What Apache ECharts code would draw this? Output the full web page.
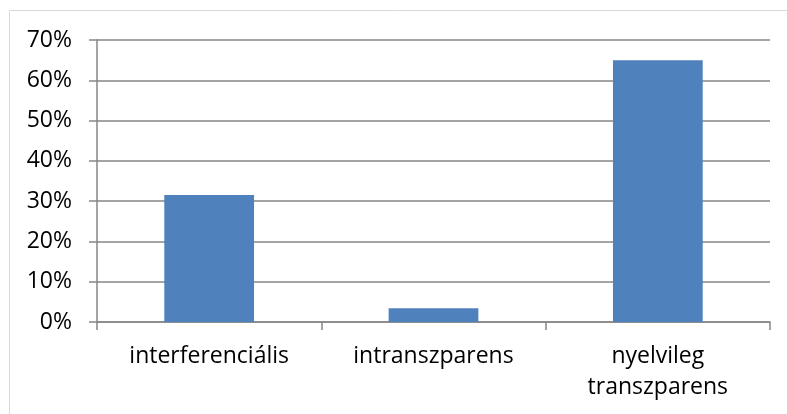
<!DOCTYPE html>
<html>
<head>
<meta charset="utf-8">
<script src="https://cdn.jsdelivr.net/npm/echarts@6/dist/echarts.min.js"></script>
<style>html,body{margin:0;padding:0;background:#fff;}#c{width:787px;height:414px;}</style>
</head>
<body>
<div id="c"></div>
<script>
const categories = ['interferenciális', 'intranszparens', 'nyelvileg\ntranszparens'];
const values = [0.315, 0.034, 0.65];
const yMin = 0, yMax = 0.7, yStep = 0.1;

const chart = echarts.init(document.getElementById('c'), null, {renderer: 'canvas'});
const font = '"Open Sans", sans-serif';
chart.setOption({
  animation: false,
  backgroundColor: '#ffffff',
  graphic: [{
    type: 'rect',
    shape: {x: 9.5, y: 10.5, width: 900, height: 600},
    style: {fill: 'none', stroke: '#d9d9d9', lineWidth: 1},
    silent: true
  }],
  grid: {left: 97, right: 17, top: 40, bottom: 92, containLabel: false},
  xAxis: {
    type: 'category',
    data: categories,
    axisLine: {show: true, lineStyle: {color: '#868686', width: 1.5}},
    axisTick: {show: true, length: 8, alignWithLabel: false, lineStyle: {color: '#868686', width: 1.5}},
    axisLabel: {
      color: '#000', fontFamily: font, fontSize: 23, margin: 19, lineHeight: 31, interval: 0
    }
  },
  yAxis: {
    type: 'value',
    min: yMin, max: yMax, interval: yStep,
    axisLine: {show: true, lineStyle: {color: '#868686', width: 1.5}},
    axisTick: {show: true, length: 8, lineStyle: {color: '#868686', width: 1.5}},
    splitLine: {show: true, lineStyle: {color: '#868686', width: 1.5}},
    axisLabel: {
      color: '#000', fontFamily: font, fontSize: 23, margin: 25,
      formatter: v => Math.round(v * 100) + '%'
    }
  },
  series: [{
    type: 'bar',
    data: values,
    barWidth: '40%',
    itemStyle: {color: '#4f81bd'}
  }]
});
</script>
</body>
</html>
